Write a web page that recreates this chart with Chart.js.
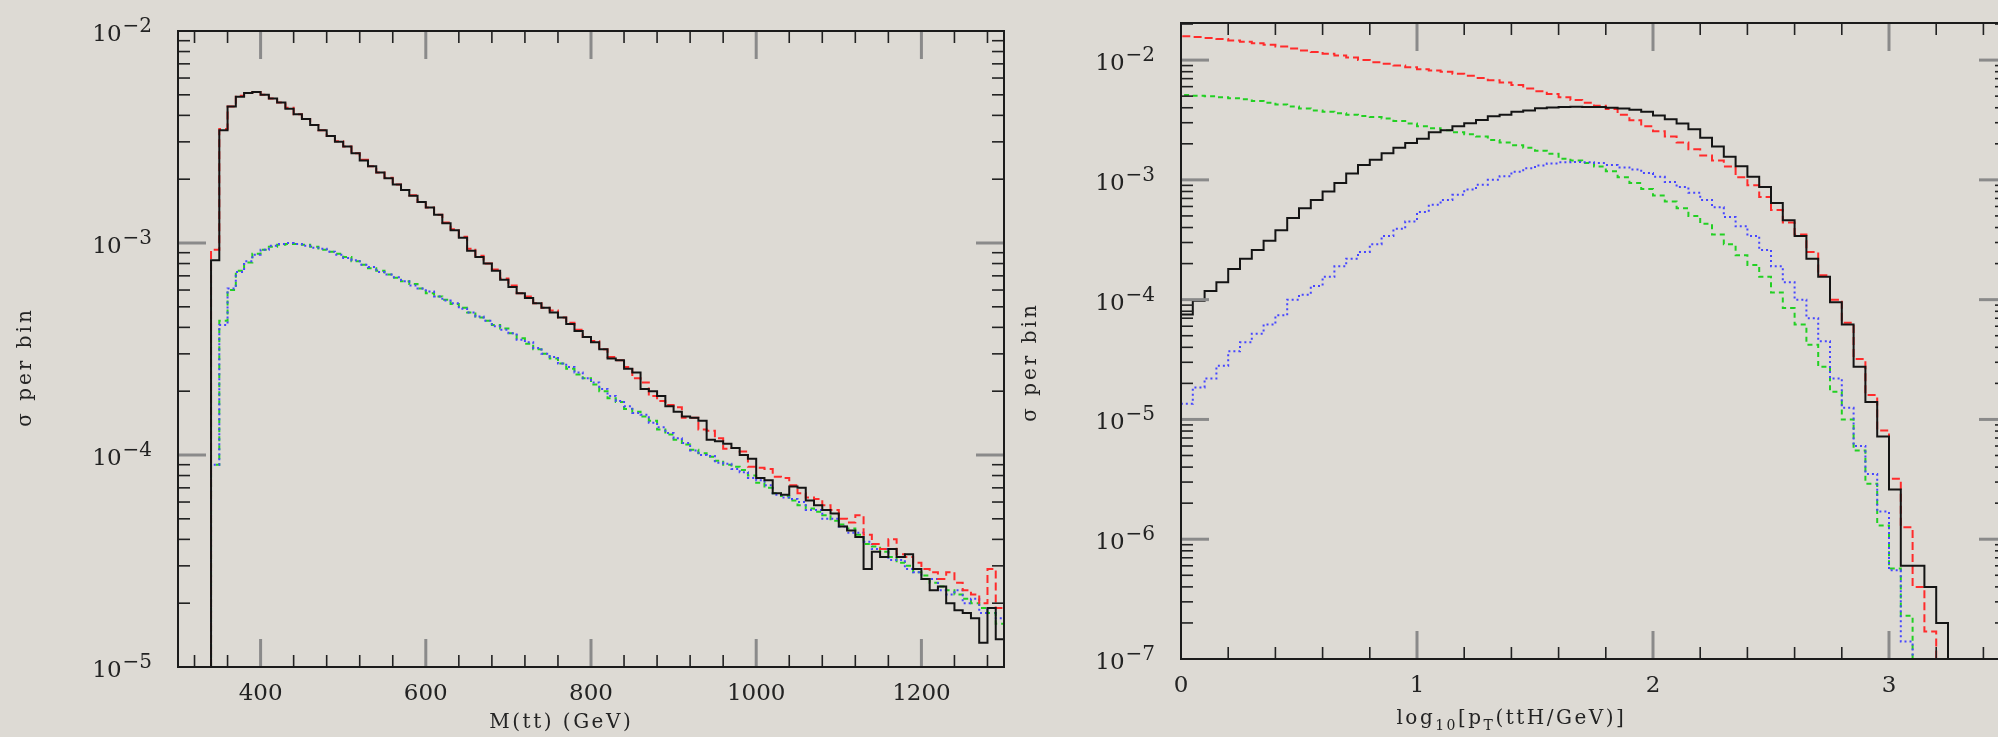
<!DOCTYPE html>
<html>
<head>
<meta charset="utf-8">
<title>ttH distributions</title>
<script src="https://cdn.jsdelivr.net/npm/chart.js@4.4.1/dist/chart.umd.min.js"></script>
<style>
  html, body { margin: 0; padding: 0; background: #dddad4; overflow: hidden; }
  body { width: 1998px; height: 737px; position: relative; }
  canvas { position: absolute; top: 0; }
  #massChart { left: 0; }
  #ptChart { left: 1010px; }
</style>
</head>
<body>
<canvas id="massChart" width="1010" height="737"></canvas>
<canvas id="ptChart" width="1000" height="737"></canvas>
<script>
// ---- M(tt) histogram: 10 GeV bins starting at 340 GeV ----
const MASS_LO = 340;
const MASS_BIN = 10;

const massBlack = [
  8.3e-4, 3.4e-3, 4.4e-3, 4.9e-3, 5.1e-3, 5.15e-3, 5.0e-3, 4.8e-3, 4.6e-3, 4.3e-3,
  4.05e-3, 3.85e-3, 3.6e-3, 3.4e-3, 3.2e-3, 3.0e-3, 2.85e-3, 2.65e-3, 2.45e-3, 2.3e-3,
  2.15e-3, 2.02e-3, 1.89e-3, 1.78e-3, 1.67e-3, 1.56e-3, 1.47e-3, 1.36e-3, 1.24e-3, 1.15e-3,
  1.06e-3, 9.2e-4, 8.6e-4, 8.0e-4, 7.4e-4, 6.7e-4, 6.2e-4, 5.8e-4, 5.5e-4, 5.2e-4,
  4.95e-4, 4.7e-4, 4.45e-4, 4.15e-4, 3.85e-4, 3.6e-4, 3.4e-4, 3.15e-4, 2.85e-4, 2.8e-4,
  2.55e-4, 2.45e-4, 2.05e-4, 2.0e-4, 1.9e-4, 1.7e-4, 1.6e-4, 1.52e-4, 1.5e-4, 1.45e-4,
  1.18e-4, 1.16e-4, 1.13e-4, 1.08e-4, 1.0e-4, 9.6e-5, 7.8e-5, 7.6e-5, 6.6e-5, 6.5e-5,
  7.1e-5, 7.0e-5, 6.1e-5, 5.8e-5, 5.5e-5, 5.3e-5, 4.6e-5, 4.4e-5, 4.1e-5, 2.9e-5,
  3.5e-5, 3.3e-5, 3.6e-5, 3.3e-5, 3.4e-5, 2.9e-5, 2.6e-5, 2.3e-5, 2.4e-5, 2.0e-5,
  1.85e-5, 1.8e-5, 1.7e-5, 1.3e-5, 1.9e-5, 1.35e-5
];
const massRed = [
  9.3e-4, 3.45e-3, 4.4e-3, 4.95e-3, 5.1e-3, 5.15e-3, 5.0e-3, 4.8e-3, 4.6e-3, 4.35e-3,
  4.05e-3, 3.85e-3, 3.6e-3, 3.4e-3, 3.2e-3, 3.02e-3, 2.85e-3, 2.65e-3, 2.47e-3, 2.3e-3,
  2.15e-3, 2.03e-3, 1.89e-3, 1.78e-3, 1.68e-3, 1.56e-3, 1.47e-3, 1.36e-3, 1.25e-3, 1.16e-3,
  1.07e-3, 9.4e-4, 8.7e-4, 8.0e-4, 7.5e-4, 6.8e-4, 6.3e-4, 5.8e-4, 5.6e-4, 5.2e-4,
  4.95e-4, 4.8e-4, 4.45e-4, 4.2e-4, 3.9e-4, 3.6e-4, 3.45e-4, 3.15e-4, 2.9e-4, 2.8e-4,
  2.6e-4, 2.3e-4, 2.2e-4, 1.9e-4, 1.8e-4, 1.72e-4, 1.68e-4, 1.5e-4, 1.5e-4, 1.32e-4,
  1.3e-4, 1.2e-4, 1.07e-4, 1.08e-4, 1.04e-4, 8.8e-5, 8.7e-5, 8.6e-5, 7.9e-5, 7.8e-5,
  7.2e-5, 6.6e-5, 6.3e-5, 6.2e-5, 5.8e-5, 5.5e-5, 5.0e-5, 4.8e-5, 5.2e-5, 4.2e-5,
  3.8e-5, 3.6e-5, 4.0e-5, 3.4e-5, 3.3e-5, 3.1e-5, 2.9e-5, 2.8e-5, 2.6e-5, 2.8e-5,
  2.5e-5, 2.3e-5, 2.2e-5, 2.0e-5, 2.9e-5, 1.9e-5
];
const massGreen = [
  9.0e-5, 4.3e-4, 6.0e-4, 7.4e-4, 8.1e-4, 8.9e-4, 9.3e-4, 9.6e-4, 9.8e-4, 9.9e-4,
  9.9e-4, 9.8e-4, 9.6e-4, 9.3e-4, 9.1e-4, 8.9e-4, 8.6e-4, 8.2e-4, 7.9e-4, 7.6e-4,
  7.4e-4, 7.1e-4, 6.85e-4, 6.6e-4, 6.4e-4, 6.1e-4, 5.8e-4, 5.6e-4, 5.4e-4, 5.15e-4,
  4.95e-4, 4.7e-4, 4.45e-4, 4.3e-4, 4.1e-4, 3.95e-4, 3.75e-4, 3.55e-4, 3.35e-4, 3.15e-4,
  3.0e-4, 2.85e-4, 2.7e-4, 2.55e-4, 2.4e-4, 2.3e-4, 2.15e-4, 2.0e-4, 1.85e-4, 1.78e-4,
  1.65e-4, 1.6e-4, 1.52e-4, 1.45e-4, 1.32e-4, 1.25e-4, 1.18e-4, 1.12e-4, 1.06e-4, 1.02e-4,
  9.8e-5, 9.4e-5, 9.0e-5, 8.8e-5, 8.5e-5, 8.0e-5, 7.4e-5, 7.0e-5, 6.6e-5, 6.4e-5,
  6.1e-5, 5.8e-5, 5.6e-5, 5.4e-5, 5.2e-5, 4.9e-5, 4.7e-5, 4.5e-5, 4.2e-5, 3.8e-5,
  3.7e-5, 3.5e-5, 3.3e-5, 3.1e-5, 3.0e-5, 2.8e-5, 2.7e-5, 2.5e-5, 2.4e-5, 2.3e-5,
  2.2e-5, 2.1e-5, 2.0e-5, 1.9e-5, 1.8e-5, 1.6e-5
];
const massBlue = [
  9.0e-5, 4.1e-4, 6.1e-4, 7.3e-4, 8.2e-4, 8.8e-4, 9.3e-4, 9.7e-4, 9.9e-4, 1.0e-3,
  9.9e-4, 9.7e-4, 9.5e-4, 9.4e-4, 9.1e-4, 8.8e-4, 8.5e-4, 8.3e-4, 7.9e-4, 7.7e-4,
  7.3e-4, 7.1e-4, 6.9e-4, 6.6e-4, 6.3e-4, 6.1e-4, 5.9e-4, 5.6e-4, 5.35e-4, 5.2e-4,
  4.9e-4, 4.7e-4, 4.5e-4, 4.3e-4, 4.05e-4, 3.9e-4, 3.75e-4, 3.5e-4, 3.4e-4, 3.2e-4,
  3.0e-4, 2.9e-4, 2.7e-4, 2.6e-4, 2.45e-4, 2.3e-4, 2.2e-4, 2.05e-4, 1.9e-4, 1.8e-4,
  1.7e-4, 1.58e-4, 1.55e-4, 1.42e-4, 1.35e-4, 1.27e-4, 1.2e-4, 1.14e-4, 1.05e-4, 1.0e-4,
  9.9e-5, 9.2e-5, 9.1e-5, 8.6e-5, 8.3e-5, 7.8e-5, 7.6e-5, 7.2e-5, 6.5e-5, 6.3e-5,
  6.2e-5, 6.0e-5, 5.5e-5, 5.5e-5, 5.0e-5, 5.0e-5, 4.6e-5, 4.3e-5, 4.3e-5, 3.9e-5,
  3.6e-5, 3.6e-5, 3.2e-5, 3.2e-5, 2.9e-5, 2.8e-5, 2.6e-5, 2.6e-5, 2.3e-5, 2.2e-5,
  2.3e-5, 2.0e-5, 2.1e-5, 1.8e-5, 1.9e-5, 1.7e-5
];
const massTicks = [400, 600, 800, 1000, 1200];
const massExps = [-2, -3, -4, -5];

// ---- log10 pT(ttH) histogram: 0.05 bins starting at 0 ----
const PT_LO = 0;
const PT_BIN = 0.05;

const ptBlack = [
  7.5e-5, 9.8e-5, 1.18e-4, 1.4e-4, 1.8e-4, 2.2e-4, 2.6e-4, 3.1e-4, 3.8e-4, 4.8e-4,
  5.8e-4, 6.8e-4, 8.0e-4, 9.4e-4, 1.13e-3, 1.33e-3, 1.47e-3, 1.67e-3, 1.85e-3, 2.03e-3,
  2.2e-3, 2.5e-3, 2.6e-3, 2.8e-3, 2.97e-3, 3.16e-3, 3.4e-3, 3.5e-3, 3.7e-3, 3.8e-3,
  3.97e-3, 4.02e-3, 4.05e-3, 4.07e-3, 4.05e-3, 4.05e-3, 4.0e-3, 3.95e-3, 3.85e-3, 3.7e-3,
  3.45e-3, 3.2e-3, 2.95e-3, 2.65e-3, 2.25e-3, 1.9e-3, 1.56e-3, 1.3e-3, 1.06e-3, 8.7e-4,
  6.4e-4, 4.6e-4, 3.4e-4, 2.2e-4, 1.55e-4, 9.5e-5, 6.2e-5, 2.75e-5, 1.4e-5, 7.2e-6,
  2.6e-6, 6.0e-7, 6.0e-7, 4.0e-7, 2.0e-7, 0, 0, 0, 0, 0
];
const ptRed = [
  1.58e-2, 1.56e-2, 1.53e-2, 1.5e-2, 1.46e-2, 1.42e-2, 1.38e-2, 1.34e-2, 1.3e-2, 1.25e-2,
  1.2e-2, 1.17e-2, 1.13e-2, 1.09e-2, 1.05e-2, 1.0e-2, 9.6e-3, 9.3e-3, 9.0e-3, 8.7e-3,
  8.4e-3, 8.2e-3, 8.0e-3, 7.7e-3, 7.4e-3, 7.1e-3, 6.8e-3, 6.5e-3, 6.2e-3, 5.8e-3,
  5.5e-3, 5.2e-3, 4.9e-3, 4.65e-3, 4.4e-3, 4.15e-3, 3.9e-3, 3.5e-3, 3.15e-3, 2.8e-3,
  2.55e-3, 2.3e-3, 2.05e-3, 1.8e-3, 1.6e-3, 1.45e-3, 1.29e-3, 1.05e-3, 9.0e-4, 7.2e-4,
  5.6e-4, 4.4e-4, 3.5e-4, 2.5e-4, 1.6e-4, 1.0e-4, 6.4e-5, 3.2e-5, 1.6e-5, 8.1e-6,
  3.2e-6, 1.26e-6, 4.0e-7, 1.7e-7, 0, 0, 0, 0, 0, 0
];
const ptGreen = [
  5.1e-3, 5.05e-3, 5.0e-3, 4.9e-3, 4.8e-3, 4.7e-3, 4.55e-3, 4.4e-3, 4.25e-3, 4.1e-3,
  3.95e-3, 3.8e-3, 3.7e-3, 3.6e-3, 3.5e-3, 3.42e-3, 3.35e-3, 3.25e-3, 3.1e-3, 2.95e-3,
  2.8e-3, 2.7e-3, 2.6e-3, 2.5e-3, 2.4e-3, 2.3e-3, 2.15e-3, 2.05e-3, 1.95e-3, 1.85e-3,
  1.75e-3, 1.65e-3, 1.5e-3, 1.45e-3, 1.38e-3, 1.29e-3, 1.18e-3, 1.05e-3, 9.4e-4, 8.4e-4,
  7.4e-4, 6.6e-4, 5.8e-4, 5.0e-4, 4.3e-4, 3.5e-4, 2.9e-4, 2.35e-4, 1.95e-4, 1.55e-4,
  1.15e-4, 8.5e-5, 6.2e-5, 4.2e-5, 2.75e-5, 1.7e-5, 1.0e-5, 5.5e-6, 2.9e-6, 1.3e-6,
  5.7e-7, 2.3e-7, 0, 0, 0, 0, 0, 0, 0, 0
];
const ptBlue = [
  1.35e-5, 1.85e-5, 2.2e-5, 2.8e-5, 3.7e-5, 4.4e-5, 5.2e-5, 6.2e-5, 7.4e-5, 1.0e-4,
  1.1e-4, 1.3e-4, 1.55e-4, 1.9e-4, 2.2e-4, 2.5e-4, 2.9e-4, 3.4e-4, 3.9e-4, 4.5e-4,
  5.4e-4, 6.2e-4, 6.8e-4, 7.5e-4, 8.3e-4, 9.1e-4, 1.0e-3, 1.07e-3, 1.17e-3, 1.25e-3,
  1.32e-3, 1.37e-3, 1.4e-3, 1.41e-3, 1.4e-3, 1.38e-3, 1.33e-3, 1.27e-3, 1.22e-3, 1.14e-3,
  1.06e-3, 9.6e-4, 8.7e-4, 7.8e-4, 6.8e-4, 5.9e-4, 4.9e-4, 4.1e-4, 3.4e-4, 2.6e-4,
  1.9e-4, 1.4e-4, 1.0e-4, 7.0e-5, 4.5e-5, 2.2e-5, 1.25e-5, 6.0e-6, 3.5e-6, 1.7e-6,
  5.5e-7, 1.4e-7, 0, 0, 0, 0, 0, 0, 0, 0
];
const ptTicks = [0, 1, 2, 3];
const ptExps = [-2, -3, -4, -5, -6, -7];

// Colours / styles
const INK = '#232323';
const FONT = '"DejaVu Serif"';
const SERIES = {
  black: { color: '#141414', dash: [] },
  red: { color: '#ff2b2b', dash: [8, 4] },
  green: { color: '#22d022', dash: [5, 4] },
  blue: { color: '#4646ff', dash: [2, 3] }
};

// Histogram outline: a point at every lower bin edge, stepped so each
// value holds across its bin; empty bins sit on the axis floor.
function histPoints(lo, width, values, floor) {
  const pts = [{ x: lo, y: floor }];
  values.forEach((v, i) => pts.push({ x: lo + i * width, y: v > 0 ? v : floor }));
  pts.push({ x: lo + values.length * width, y: floor });
  return pts;
}

function histDataset(name, lo, width, values, floor) {
  const s = SERIES[name];
  return {
    data: histPoints(lo, width, values, floor),
    borderColor: s.color,
    borderDash: s.dash,
    borderWidth: 2,
    stepped: 'before',
    pointRadius: 0,
    fill: false
  };
}

// Frame, inward ticks, labels and titles drawn from the chart's scales
const plotFrame = {
  id: 'plotFrame',
  afterDatasetsDraw(chart, args, o) {
    const { ctx, chartArea: a } = chart;
    const xs = chart.scales.x, ys = chart.scales.y;
    ctx.save();
    ctx.lineCap = 'butt';

    function line(x0, y0, x1, y1, w, c) {
      ctx.beginPath();
      ctx.lineWidth = w;
      ctx.strokeStyle = c;
      ctx.moveTo(x0, y0);
      ctx.lineTo(x1, y1);
      ctx.stroke();
    }

    // x ticks, top and bottom
    const xMin = xs.min, xMax = xs.max;
    for (let k = Math.ceil(xMin / o.minorStep); k * o.minorStep < xMax; k++) {
      const v = k * o.minorStep;
      if (v <= xMin) continue;
      const major = o.xMajor.some(m => Math.abs(m - v) < 1e-9);
      const len = major ? 28 : 12;
      const px = xs.getPixelForValue(v);
      line(px, a.bottom, px, a.bottom - len, major ? 3 : 1.6, major ? '#8a8a8a' : '#222');
      line(px, a.top, px, a.top + len, major ? 3 : 1.6, major ? '#8a8a8a' : '#222');
    }

    // log y ticks, left and right
    const lo = Math.floor(Math.log10(ys.min)), hi = Math.ceil(Math.log10(ys.max));
    for (let d = lo; d <= hi; d++) {
      for (let m = 1; m <= 9; m++) {
        const v = m * Math.pow(10, d);
        if (v <= ys.min * 1.0001 || v >= ys.max * 0.9999) continue;
        const py = ys.getPixelForValue(v);
        const major = m === 1;
        const len = major ? 28 : 12;
        line(a.left, py, a.left + len, py, major ? 3 : 1.6, major ? '#8a8a8a' : '#222');
        line(a.right, py, a.right - len, py, major ? 3 : 1.6, major ? '#8a8a8a' : '#222');
      }
    }

    // frame
    ctx.lineWidth = 2;
    ctx.strokeStyle = '#1b1b1b';
    ctx.strokeRect(a.left, a.top, a.right - a.left, a.bottom - a.top);

    ctx.fillStyle = INK;

    // y labels: 10 with raised exponent
    o.exps.forEach(e => {
      const py = ys.getPixelForValue(Math.pow(10, e));
      const exp = '\u2212' + Math.abs(e);
      ctx.font = '23px ' + FONT;
      const wBase = ctx.measureText('10').width;
      ctx.font = '20px ' + FONT;
      const wExp = ctx.measureText(exp).width;
      const x0 = a.left - 26 - wExp - 1 - wBase;
      ctx.textAlign = 'left';
      ctx.textBaseline = 'alphabetic';
      ctx.font = '23px ' + FONT;
      ctx.fillText('10', x0, py + 10);
      ctx.font = '20px ' + FONT;
      ctx.fillText(exp, x0 + wBase + 1, py + 1);
    });

    // x labels
    ctx.font = '23px ' + FONT;
    ctx.textAlign = 'center';
    ctx.textBaseline = 'alphabetic';
    o.xMajor.forEach(v => {
      ctx.fillText(String(v), xs.getPixelForValue(v), a.bottom + 33);
    });

    // x title, pieces may be subscripts
    ctx.textAlign = 'left';
    ctx.letterSpacing = '2.5px';
    const parts = o.xTitle.map(p => {
      ctx.font = (p[1] ? '14px ' : '20px ') + FONT;
      return { text: p[0], sub: !!p[1], w: ctx.measureText(p[0]).width };
    });
    const total = parts.reduce((s, p) => s + p.w, 0);
    let tx = a.left + o.xTitleAt * (a.right - a.left) - total / 2;
    parts.forEach(p => {
      ctx.font = (p.sub ? '14px ' : '20px ') + FONT;
      ctx.fillText(p.text, tx, o.xTitleY + (p.sub ? 6 : 0));
      tx += p.w;
    });

    // y title, rotated
    ctx.letterSpacing = '3px';
    ctx.font = '20px ' + FONT;
    ctx.translate(o.yTitleX, (a.top + a.bottom) / 2 + o.yTitleShift);
    ctx.rotate(-Math.PI / 2);
    ctx.textAlign = 'center';
    ctx.textBaseline = 'middle';
    ctx.fillText('\u03c3 per bin', 0, 0);

    ctx.restore();
  }
};

function makeChart(id, datasets, xr, yr, padding, frame) {
  return new Chart(document.getElementById(id), {
    type: 'line',
    data: { datasets: datasets },
    options: {
      responsive: false,
      animation: false,
      events: [],
      layout: { padding: padding },
      plugins: {
        legend: { display: false },
        tooltip: { enabled: false },
        plotFrame: frame
      },
      scales: {
        x: { type: 'linear', min: xr[0], max: xr[1], display: false },
        y: { type: 'logarithmic', min: yr[0], max: yr[1], display: false }
      }
    },
    plugins: [plotFrame]
  });
}

// Left: invariant mass of the top pair
makeChart('massChart', [
  histDataset('black', MASS_LO, MASS_BIN, massBlack, 1e-5),
  histDataset('red', MASS_LO, MASS_BIN, massRed, 1e-5),
  histDataset('blue', MASS_LO, MASS_BIN, massBlue, 1e-5),
  histDataset('green', MASS_LO, MASS_BIN, massGreen, 1e-5)
], [300, 1300], [1e-5, 1e-2],
  { left: 178, top: 31, right: 6, bottom: 70 },
  {
    xMajor: massTicks, minorStep: 40, exps: massExps,
    xTitle: [['M(tt) (GeV)']], xTitleAt: 0.464, xTitleY: 728,
    yTitleX: 26, yTitleShift: 18
  });

// Right: log10 of the ttH transverse momentum
makeChart('ptChart', [
  histDataset('black', PT_LO, PT_BIN, ptBlack, 1e-7),
  histDataset('red', PT_LO, PT_BIN, ptRed, 1e-7),
  histDataset('blue', PT_LO, PT_BIN, ptBlue, 1e-7),
  histDataset('green', PT_LO, PT_BIN, ptGreen, 1e-7)
], [0, 3.5], [1e-7, 0.0204],
  { left: 171, top: 23, right: 3, bottom: 78 },
  {
    xMajor: ptTicks, minorStep: 0.2, exps: ptExps,
    xTitle: [['log'], ['10', 1], ['[p'], ['T', 1], ['(ttH/GeV)]']], xTitleAt: 0.40, xTitleY: 724,
    yTitleX: 21, yTitleShift: 21
  });
</script>
</body>
</html>
